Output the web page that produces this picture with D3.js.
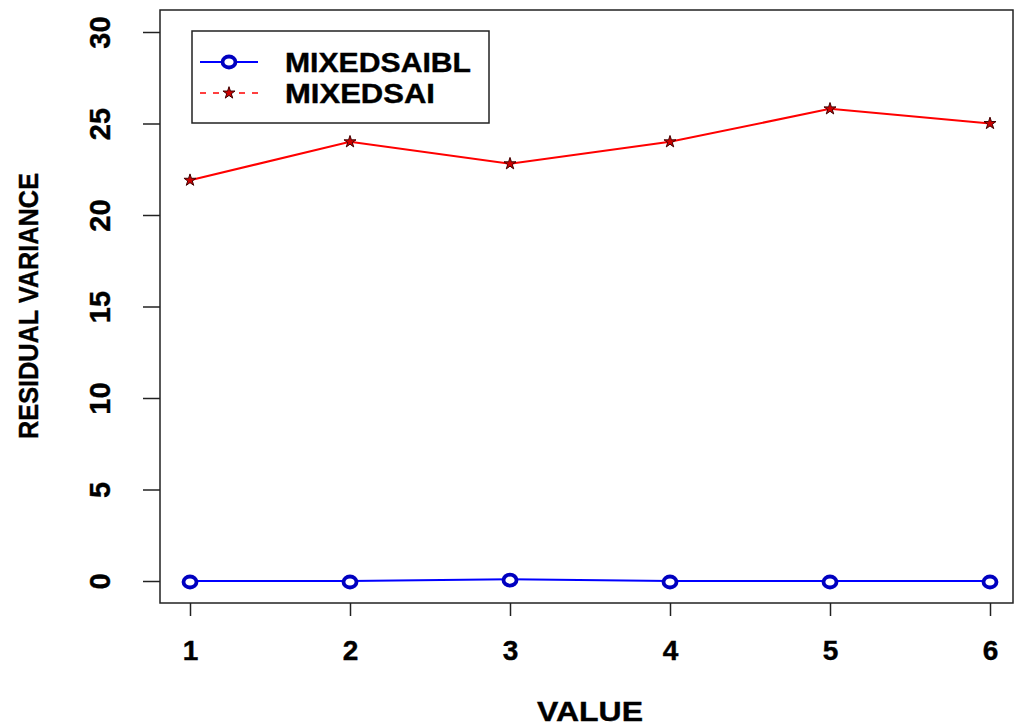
<!DOCTYPE html>
<html><head><meta charset="utf-8">
<script src="https://cdn.jsdelivr.net/npm/d3@7"></script>
<style>body{margin:0;background:#fff}svg{display:block}text{font-family:"Liberation Sans",Arial,sans-serif;font-weight:bold;fill:#000}</style>
</head><body><svg id="c" width="1014" height="727"></svg>
<script>
const xValues = [1, 2, 3, 4, 5, 6];
const seriesNames = ["MIXEDSAIBL", "MIXEDSAI"];
const mixedSaiBl = [0, 0, 0.1, 0, 0, 0];
const mixedSai = [21.9, 24.0, 22.8, 24.0, 25.8, 25.0];
const yTicks = [0, 5, 10, 15, 20, 25, 30];
const xTicks = [1, 2, 3, 4, 5, 6];

const svg = d3.select("#c");
const box = {l: 160, t: 10, r: 1013, b: 603};
const x = d3.scaleLinear().domain([1, 6]).range([190, 990]);
const y = d3.scaleLinear().domain([0, 30]).range([581, 32]);

// plot box
svg.append("rect").attr("x", box.l).attr("y", box.t).attr("width", box.r - box.l).attr("height", box.b - box.t)
  .attr("fill", "none").attr("stroke", "#222").attr("stroke-width", 1.5);

// y axis
const ya = svg.append("g").attr("transform", `translate(${box.l},0)`)
  .call(d3.axisLeft(y).tickValues(yTicks).tickSize(17).tickPadding(0).tickFormat(d3.format("d")));
ya.select(".domain").remove();
ya.selectAll(".tick line").attr("stroke", "#222").attr("stroke-width", 1.5);
ya.selectAll(".tick text").attr("x", null).attr("dy", null)
  .attr("transform", "translate(-60,0) rotate(-90)").attr("text-anchor", "middle").attr("dominant-baseline", "central")
  .style("font-size", "29px").style("font-family", "Liberation Sans, Arial, sans-serif").style("font-weight", "bold")
  .attr("stroke", "#000").attr("stroke-width", 0.4);

// x axis
const xa = svg.append("g").attr("transform", `translate(0,${box.b})`)
  .call(d3.axisBottom(x).tickValues(xTicks).tickSize(13).tickPadding(0).tickFormat(d3.format("d")));
xa.select(".domain").remove();
xa.selectAll(".tick line").attr("stroke", "#222").attr("stroke-width", 1.5);
xa.selectAll(".tick text").attr("y", 47).attr("dy", null).attr("dominant-baseline", "central")
  .style("font-size", "28px").style("font-family", "Liberation Sans, Arial, sans-serif").style("font-weight", "bold")
  .attr("stroke", "#000").attr("stroke-width", 0.4);

// axis titles
svg.append("text").attr("x", 590).attr("y", 711).attr("text-anchor", "middle").attr("dominant-baseline", "central")
  .attr("font-size", 28).attr("textLength", 106).attr("lengthAdjust", "spacingAndGlyphs")
  .attr("stroke", "#000").attr("stroke-width", 0.4).text("VALUE");
svg.append("text").attr("transform", "translate(28,306) rotate(-90)").attr("text-anchor", "middle").attr("dominant-baseline", "central")
  .attr("font-size", 28).attr("textLength", 266).attr("lengthAdjust", "spacingAndGlyphs")
  .attr("stroke", "#000").attr("stroke-width", 0.4).text("RESIDUAL VARIANCE");

const line = d3.line().x((d, i) => x(xValues[i])).y(d => y(d));

// blue series
svg.append("path").datum(mixedSaiBl).attr("d", line).attr("fill", "none").attr("stroke", "#0000ff").attr("stroke-width", 2);
svg.selectAll(".bm").data(mixedSaiBl).join("ellipse").attr("class", "bm")
  .attr("cx", (d, i) => x(xValues[i])).attr("cy", d => y(d) + 1).attr("rx", 6.5).attr("ry", 5.5)
  .attr("fill", "#fff").attr("stroke", "#0000c0").attr("stroke-width", 3.8);

// red series
svg.append("path").datum(mixedSai).attr("d", line).attr("fill", "none").attr("stroke", "#ff0000").attr("stroke-width", 2);
const star = d3.symbol().type(d3.symbolStar).size(45);
svg.selectAll(".rm").data(mixedSai).join("path").attr("class", "rm")
  .attr("transform", (d, i) => `translate(${x(xValues[i])},${y(d)})`).attr("d", star)
  .attr("fill", "#cc0000").attr("stroke", "#400000").attr("stroke-width", 1);

// legend
const lg = svg.append("g");
lg.append("rect").attr("x", 192).attr("y", 31).attr("width", 297).attr("height", 92)
  .attr("fill", "#fff").attr("stroke", "#222").attr("stroke-width", 1.5);
const rows = [62, 93];
lg.append("line").attr("x1", 200).attr("x2", 258).attr("y1", rows[0]).attr("y2", rows[0]).attr("stroke", "#0000ff").attr("stroke-width", 2);
lg.append("ellipse").attr("cx", 229).attr("cy", rows[0]).attr("rx", 6.5).attr("ry", 5.5).attr("fill", "#fff").attr("stroke", "#0000c0").attr("stroke-width", 3.8);
lg.append("line").attr("x1", 200).attr("x2", 258).attr("y1", rows[1]).attr("y2", rows[1]).attr("stroke", "#ff0000").attr("stroke-width", 1.5).attr("stroke-dasharray", "6,7");
lg.append("path").attr("transform", `translate(229,${rows[1]})`).attr("d", star).attr("fill", "#cc0000").attr("stroke", "#400000").attr("stroke-width", 1);
lg.append("text").attr("x", 285).attr("y", rows[0]).attr("dominant-baseline", "central").attr("font-size", 28)
  .attr("textLength", 186).attr("lengthAdjust", "spacingAndGlyphs").attr("stroke", "#000").attr("stroke-width", 0.4).text(seriesNames[0]);
lg.append("text").attr("x", 285).attr("y", rows[1]).attr("dominant-baseline", "central").attr("font-size", 28)
  .attr("textLength", 150).attr("lengthAdjust", "spacingAndGlyphs").attr("stroke", "#000").attr("stroke-width", 0.4).text(seriesNames[1]);
</script></body></html>
